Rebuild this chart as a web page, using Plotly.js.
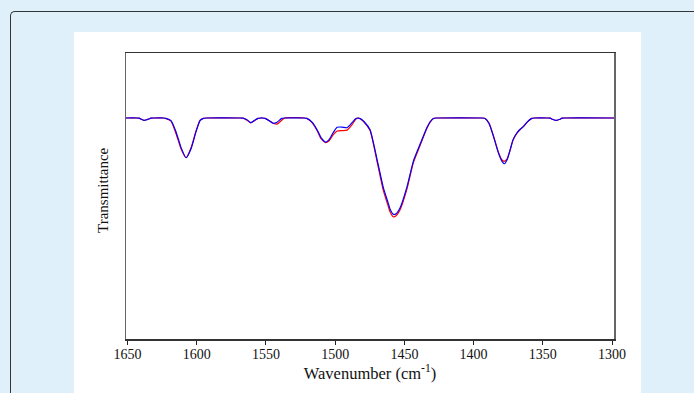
<!DOCTYPE html>
<html>
<head>
<meta charset="utf-8">
<script src="https://cdn.plot.ly/plotly-3.0.1.min.js"></script>
<style>
  html, body { margin:0; padding:0; width:694px; height:393px; overflow:hidden; background:#dff0fb; }
  #frame { position:absolute; left:10px; top:11px; width:700px; height:400px; border-left:1.5px solid #333; border-top:1.5px solid #333; border-top-left-radius:5px; box-sizing:border-box; }
  #panel { position:absolute; left:74px; top:32px; width:567px; height:361px; background:#ffffff; }
  #chart { position:absolute; left:0; top:0; width:694px; height:393px; }
</style>
</head>
<body>
<div id="frame"></div>
<div id="panel"></div>
<div id="chart"></div>
<script>
// Wavenumber (cm^-1) sample positions
const wavenumber = [1651.1, 1643.5, 1641.7, 1638.1, 1633.0, 1631.0, 1624.0, 1622.2, 1618.6, 1615.0, 1611.3, 1607.7, 1604.1, 1600.5, 1597.6, 1595.2, 1593.0,
  1568.5, 1566.6, 1563.7, 1561.0, 1558.6, 1555.7, 1553.5, 1552.5, 1550.7, 1547.8, 1544.7, 1542.0, 1538.6, 1536.5,
  1522.5, 1520.5, 1516.7, 1513.1, 1510.2, 1506.9, 1504.4, 1501.5, 1498.6, 1495.0, 1491.4, 1487.8, 1485.2, 1483.5,
  1481.6, 1479.1, 1474.8, 1470.0, 1465.2, 1461.8, 1460.3, 1458.0, 1456.0, 1453.1, 1448.3, 1443.5, 1438.7, 1433.8, 1431.4, 1429.1, 1427.0,
  1393.8, 1391.7, 1388.8, 1385.7, 1382.1, 1379.8, 1377.8, 1375.8, 1373.6, 1371.5, 1368.8, 1366.4, 1364.0, 1361.4, 1358.0, 1356.0,
  1346.5, 1344.7, 1342.6, 1340.4, 1338.2, 1336.1, 1334.3, 1298.5];

// Transmittance (arbitrary units), blue spectrum
const blueT = [100, 100, 99.9, 98.9, 99.9, 100, 100, 99.8, 98.8, 93.8, 86.6, 82.0, 86.1, 93.8, 98.8, 99.8, 100,
  100, 99.9, 99.2, 97.9, 98.8, 99.8, 100, 100, 99.8, 98.8, 97.6, 98.1, 99.8, 100,
  100, 99.8, 98.1, 94.7, 91.1, 89.1, 90.2, 93.3, 95.8, 95.9, 95.6, 97.9, 99.6, 100,
  99.6, 98.3, 94.7, 82.0, 68.5, 61.7, 58.7, 56.4, 56.7, 59.4, 68.5, 80.5, 88.1, 95.6, 98.3, 99.8, 100,
  100, 99.8, 97.4, 91.7, 84.2, 80.7, 79.3, 81.1, 85.7, 90.2, 93.2, 94.9, 96.2, 98.1, 99.8, 100,
  100, 99.9, 99.3, 98.9, 99.3, 99.9, 100, 100];

// Transmittance (arbitrary units), red spectrum
const redT = [100, 100, 99.9, 98.9, 99.9, 100, 100, 99.7, 98.6, 93.0, 86.0, 82.0, 86.5, 94.2, 99.0, 99.8, 100,
  100, 99.9, 99.0, 97.8, 98.6, 99.8, 100, 100, 99.8, 98.9, 97.6, 97.2, 99.0, 100,
  100, 99.8, 97.9, 94.3, 90.6, 88.8, 89.7, 92.4, 94.1, 94.3, 94.5, 97.0, 99.4, 99.9,
  99.5, 98.1, 94.3, 81.1, 67.1, 60.3, 57.5, 55.3, 55.8, 58.5, 67.6, 79.8, 87.5, 95.2, 98.1, 99.8, 100,
  100, 99.8, 97.6, 92.0, 84.5, 81.3, 80.4, 81.5, 85.5, 90.0, 93.0, 94.8, 96.1, 98.0, 99.8, 100,
  100, 99.9, 99.3, 98.9, 99.3, 99.9, 100, 100];

const xTicks = [1650, 1600, 1550, 1500, 1450, 1400, 1350, 1300];

const traces = [
  { x: wavenumber, y: redT, type: 'scatter', mode: 'lines',
    line: { color: '#ff0000', width: 1.2, shape: 'spline', smoothing: 0.5 }, hoverinfo: 'skip' },
  { x: wavenumber, y: blueT, type: 'scatter', mode: 'lines',
    line: { color: '#0000ff', width: 1.2, shape: 'spline', smoothing: 0.5 }, hoverinfo: 'skip' }
];

const serif = 'Liberation Serif, Times New Roman, serif';

const layout = {
  width: 694, height: 393,
  margin: { l: 126, r: 80, t: 53, b: 54 },
  paper_bgcolor: 'rgba(0,0,0,0)',
  plot_bgcolor: '#ffffff',
  showlegend: false,
  xaxis: {
    range: [1651.1, 1298.6],
    tickvals: xTicks,
    ticktext: xTicks.map(String),
    ticks: 'outside', ticklen: 4, tickwidth: 1, tickcolor: '#222',
    ticklabelstandoff: -2,
    showgrid: false, zeroline: false,
    showline: true, mirror: true, linecolor: '#333', linewidth: 1.5,
    tickfont: { family: serif, size: 14, color: '#111' },
    title: { text: 'Wavenumber (cm<sup>-1</sup>)', font: { family: serif, size: 16.5, color: '#111' }, standoff: 6 }
  },
  yaxis: {
    range: [0, 129.4],
    showticklabels: false, ticks: '',
    showgrid: false, zeroline: false,
    showline: true, mirror: true, linecolor: '#666', linewidth: 1.5
  },
  annotations: [{
    text: 'Transmittance', textangle: -90,
    xref: 'paper', yref: 'paper', x: 0, y: 0.521, xanchor: 'center', yanchor: 'middle',
    xshift: -23, showarrow: false,
    font: { family: serif, size: 15, color: '#111' }
  }]
};

Plotly.newPlot('chart', traces, layout, { staticPlot: true, displayModeBar: false });
</script>
</body>
</html>
